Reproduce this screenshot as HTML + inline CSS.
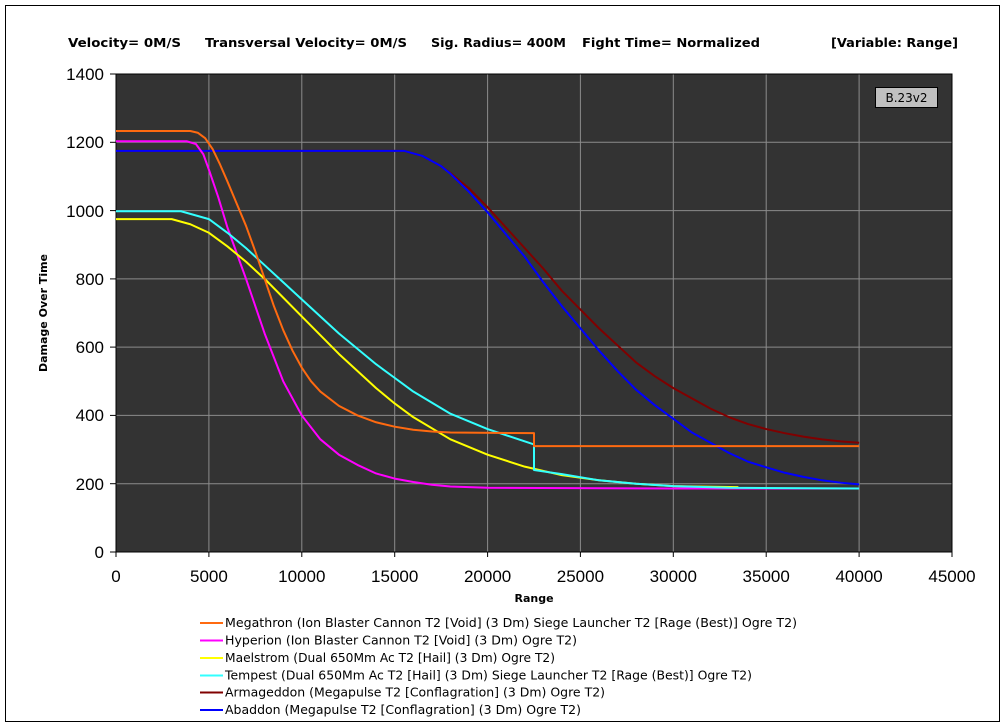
<!DOCTYPE html>
<html><head><meta charset="utf-8"><style>
body{margin:0;background:#fff;}
svg{display:block;font-family:"Liberation Sans",sans-serif;}
</style></head><body>
<svg width="1005" height="727" viewBox="0 0 1005 727">
<rect x="0" y="0" width="1005" height="727" fill="#fff"/>
<rect x="5.5" y="5.5" width="994" height="716" fill="none" stroke="#000" stroke-width="1"/>
<g font-size="12" font-weight="bold" fill="#000" font-family="DejaVu Sans, sans-serif">
<text x="68" y="47" textLength="113" lengthAdjust="spacingAndGlyphs">Velocity= 0M/S</text>
<text x="205" y="47" textLength="202" lengthAdjust="spacingAndGlyphs">Transversal Velocity= 0M/S</text>
<text x="431" y="47" textLength="135" lengthAdjust="spacingAndGlyphs">Sig. Radius= 400M</text>
<text x="582" y="47" textLength="178" lengthAdjust="spacingAndGlyphs">Fight Time= Normalized</text>
<text x="831" y="47" textLength="127" lengthAdjust="spacingAndGlyphs">[Variable: Range]</text>
</g>
<rect x="116" y="74" width="836" height="478" fill="#333333"/>
<g stroke="#8c8c8c" stroke-width="1">
<line x1="116" y1="142.3" x2="952" y2="142.3"/><line x1="116" y1="210.6" x2="952" y2="210.6"/>
<line x1="116" y1="278.9" x2="952" y2="278.9"/><line x1="116" y1="347.1" x2="952" y2="347.1"/>
<line x1="116" y1="415.4" x2="952" y2="415.4"/><line x1="116" y1="483.7" x2="952" y2="483.7"/>
<line x1="208.9" y1="74" x2="208.9" y2="552"/><line x1="301.8" y1="74" x2="301.8" y2="552"/>
<line x1="394.7" y1="74" x2="394.7" y2="552"/><line x1="487.6" y1="74" x2="487.6" y2="552"/>
<line x1="580.4" y1="74" x2="580.4" y2="552"/><line x1="673.3" y1="74" x2="673.3" y2="552"/>
<line x1="766.2" y1="74" x2="766.2" y2="552"/><line x1="859.1" y1="74" x2="859.1" y2="552"/>
</g>
<rect x="116" y="74" width="836" height="478" fill="none" stroke="#000" stroke-width="1"/>
<g stroke="#000" stroke-width="1">
<line x1="110" y1="74" x2="116" y2="74"/><line x1="110" y1="142.3" x2="116" y2="142.3"/><line x1="110" y1="210.6" x2="116" y2="210.6"/><line x1="110" y1="278.9" x2="116" y2="278.9"/><line x1="110" y1="347.1" x2="116" y2="347.1"/><line x1="110" y1="415.4" x2="116" y2="415.4"/><line x1="110" y1="483.7" x2="116" y2="483.7"/><line x1="110" y1="552" x2="116" y2="552"/>
<line x1="116" y1="552" x2="116" y2="557"/><line x1="208.9" y1="552" x2="208.9" y2="557"/><line x1="301.8" y1="552" x2="301.8" y2="557"/><line x1="394.7" y1="552" x2="394.7" y2="557"/><line x1="487.6" y1="552" x2="487.6" y2="557"/><line x1="580.4" y1="552" x2="580.4" y2="557"/><line x1="673.3" y1="552" x2="673.3" y2="557"/><line x1="766.2" y1="552" x2="766.2" y2="557"/><line x1="859.1" y1="552" x2="859.1" y2="557"/><line x1="952" y1="552" x2="952" y2="557"/>
</g>
<g font-size="17" fill="#000" text-anchor="end">
<text x="104" y="80">1400</text><text x="104" y="148">1200</text><text x="104" y="217">1000</text><text x="104" y="285">800</text><text x="104" y="353">600</text><text x="104" y="421">400</text><text x="104" y="490">200</text><text x="104" y="558">0</text>
</g>
<g font-size="17" fill="#000" text-anchor="middle">
<text x="116" y="582">0</text><text x="208.9" y="582">5000</text><text x="301.8" y="582">10000</text><text x="394.7" y="582">15000</text><text x="487.6" y="582">20000</text><text x="580.4" y="582">25000</text><text x="673.3" y="582">30000</text><text x="766.2" y="582">35000</text><text x="859.1" y="582">40000</text><text x="952" y="582">45000</text>
</g>
<text x="534" y="602" font-size="11" font-weight="bold" text-anchor="middle" font-family="DejaVu Sans, sans-serif">Range</text>
<text transform="translate(47,313) rotate(-90)" font-size="11" font-weight="bold" text-anchor="middle" font-family="DejaVu Sans, sans-serif">Damage Over Time</text>
<rect x="875.5" y="87.5" width="62" height="20" fill="#c0c0c0" stroke="#000"/>
<text x="906.5" y="102" font-size="12" text-anchor="middle" font-family="DejaVu Sans, sans-serif">B.23v2</text>
<g transform="translate(116,552) scale(0.018578,-0.341429)" fill="none" stroke-width="2" stroke-linejoin="round">
<polyline vector-effect="non-scaling-stroke" stroke="#800000" points="0,1175 15500,1175 16500,1160 17500,1130 18000,1110 19000,1065 20000,1010 21000,950 22000,890 23000,830 24000,765 25000,710 26000,655 27000,605 28000,555 29000,515 30000,480 31000,450 32000,420 33000,395 34000,375 35000,360 36000,348 37000,338 38000,330 39000,324 40000,320"/>
<polyline vector-effect="non-scaling-stroke" stroke="#0000ff" points="0,1175 15500,1175 16500,1160 17500,1130 18000,1108 19000,1055 20000,995 21000,930 22000,865 23000,790 24000,720 25000,655 26000,590 27000,530 28000,475 29000,430 30000,390 31000,350 32000,320 33000,290 34000,265 35000,248 36000,232 37000,220 38000,210 39000,203 40000,198"/>
<polyline vector-effect="non-scaling-stroke" stroke="#ff00ff" points="0,1203 3800,1203 4300,1195 4700,1165 5000,1120 5500,1040 6000,950 7000,800 8000,640 9000,500 10000,400 11000,330 12000,285 13000,255 14000,230 15000,215 16000,205 17000,197 18000,192 20000,188 30000,186 40000,186"/>
<polyline vector-effect="non-scaling-stroke" stroke="#ffff00" points="0,975 3000,975 4000,960 5000,935 6000,895 7000,850 8000,800 9000,745 10000,690 12000,580 14000,480 15000,435 16000,395 18000,330 20000,285 22000,250 24000,225 26000,210 28000,200 30000,193 33500,190"/>
<polyline vector-effect="non-scaling-stroke" stroke="#33ffff" points="0,998 3500,998 5000,975 6000,935 7000,890 8000,840 9000,790 10000,740 12000,640 14000,550 15000,510 16000,470 18000,405 20000,360 22500,315 22500,240 24000,228 26000,210 28000,200 30000,193 33000,188 40000,186"/>
<polyline vector-effect="non-scaling-stroke" stroke="#ff6a10" points="0,1233 4000,1233 4400,1228 4800,1212 5200,1180 5600,1135 6000,1085 6500,1020 7000,955 7500,880 8000,800 8500,720 9000,650 9500,590 10000,540 10500,500 11000,470 12000,428 13000,400 14000,380 15000,367 16000,358 17000,353 18000,350 22500,348 22500,310 40000,310"/>
</g>
<g stroke-width="2">
<line x1="200" y1="623" x2="223" y2="623" stroke="#ff6a10"/>
<line x1="200" y1="640.5" x2="223" y2="640.5" stroke="#ff00ff"/>
<line x1="200" y1="658" x2="223" y2="658" stroke="#ffff00"/>
<line x1="200" y1="675.5" x2="223" y2="675.5" stroke="#33ffff"/>
<line x1="200" y1="692.5" x2="223" y2="692.5" stroke="#800000"/>
<line x1="200" y1="710" x2="223" y2="710" stroke="#0000ff"/>
</g>
<g font-size="12" fill="#000" font-family="DejaVu Sans, sans-serif">
<text x="225" y="627" textLength="572" lengthAdjust="spacingAndGlyphs">Megathron (Ion Blaster Cannon T2 [Void] (3 Dm) Siege Launcher T2 [Rage (Best)] Ogre T2)</text>
<text x="225" y="644.5" textLength="352" lengthAdjust="spacingAndGlyphs">Hyperion (Ion Blaster Cannon T2 [Void] (3 Dm) Ogre T2)</text>
<text x="225" y="662" textLength="330" lengthAdjust="spacingAndGlyphs">Maelstrom (Dual 650Mm Ac T2 [Hail] (3 Dm) Ogre T2)</text>
<text x="225" y="679.5" textLength="527" lengthAdjust="spacingAndGlyphs">Tempest (Dual 650Mm Ac T2 [Hail] (3 Dm) Siege Launcher T2 [Rage (Best)] Ogre T2)</text>
<text x="225" y="696.5" textLength="380" lengthAdjust="spacingAndGlyphs">Armageddon (Megapulse T2 [Conflagration] (3 Dm) Ogre T2)</text>
<text x="225" y="714" textLength="356" lengthAdjust="spacingAndGlyphs">Abaddon (Megapulse T2 [Conflagration] (3 Dm) Ogre T2)</text>
</g>
</svg>
</body></html>
